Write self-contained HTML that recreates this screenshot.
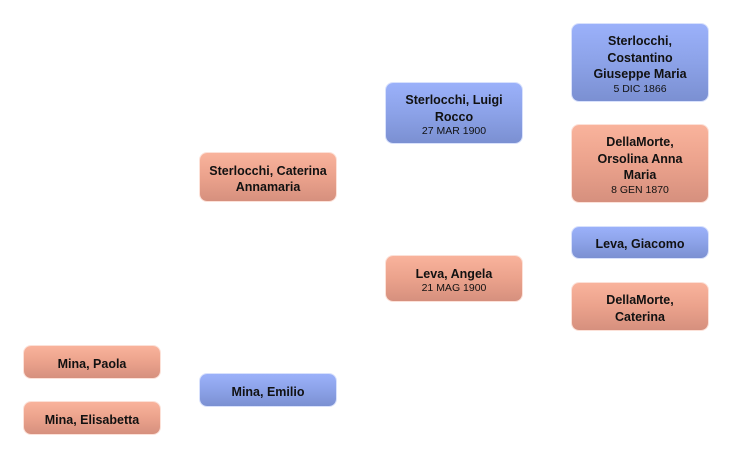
<!DOCTYPE html>
<html>
<head>
<meta charset="utf-8">
<style>
  html,body{margin:0;padding:0;background:#fff;}
  body{width:732px;height:458px;position:relative;overflow:hidden;
       font-family:"Liberation Sans","DejaVu Sans",sans-serif;}
  .b{position:absolute;box-sizing:border-box;border-radius:7px;
     display:flex;flex-direction:column;justify-content:center;align-items:center;
     text-align:center;color:#111;}
  .b > div{position:relative;top:2px;}
  .m{background:linear-gradient(to bottom,#9bb1fa 0%,#8ca2e8 50%,#7b90d2 100%);
     box-shadow:0 0 0 1px rgba(190,205,250,0.6);}
  .f{background:linear-gradient(to bottom,#f9b39c 0%,#eba28c 50%,#d6907e 100%);
     box-shadow:0 0 0 1px rgba(250,205,190,0.6);}
  .n{font-weight:bold;font-size:12.5px;line-height:16.5px;}
  .d{font-size:10.5px;line-height:13px;}
</style>
</head>
<body>
  <div class="b f" style="left:24px;top:346px;width:136px;height:32px;"><div class="n">Mina, Paola</div></div>
  <div class="b f" style="left:24px;top:402px;width:136px;height:32px;"><div class="n">Mina, Elisabetta</div></div>
  <div class="b m" style="left:200px;top:374px;width:136px;height:32px;"><div class="n">Mina, Emilio</div></div>
  <div class="b f" style="left:200px;top:153px;width:136px;height:48px;"><div class="n">Sterlocchi, Caterina<br>Annamaria</div></div>

  <div class="b m" style="left:386px;top:83px;width:136px;height:60px;"><div class="n">Sterlocchi, Luigi<br>Rocco</div><div class="d">27 MAR 1900</div></div>
  <div class="b f" style="left:386px;top:256px;width:136px;height:45px;"><div class="n">Leva, Angela</div><div class="d">21 MAG 1900</div></div>

  <div class="b m" style="left:572px;top:24px;width:136px;height:77px;"><div class="n">Sterlocchi,<br>Costantino<br>Giuseppe Maria</div><div class="d">5 DIC 1866</div></div>
  <div class="b f" style="left:572px;top:125px;width:136px;height:77px;"><div class="n">DellaMorte,<br>Orsolina Anna<br>Maria</div><div class="d">8 GEN 1870</div></div>
  <div class="b m" style="left:572px;top:227px;width:136px;height:31px;"><div class="n">Leva, Giacomo</div></div>
  <div class="b f" style="left:572px;top:283px;width:136px;height:47px;"><div class="n">DellaMorte,<br>Caterina</div></div>
</body>
</html>
